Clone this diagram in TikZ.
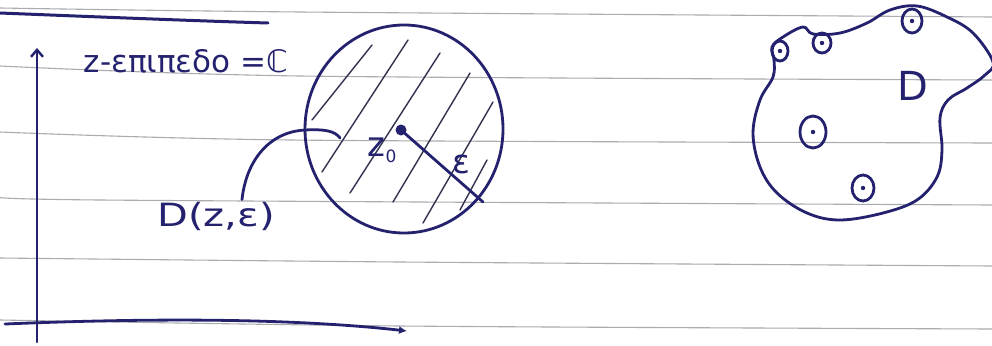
\documentclass[tikz,border=0pt]{standalone}
\usepackage{fontspec}
\setmainfont{DejaVu Sans}
\usetikzlibrary{arrows.meta}
\definecolor{ink}{RGB}{36,34,110}
\definecolor{rulecol}{RGB}{170,172,176}
\definecolor{hatchcol}{RGB}{50,50,80}
\begin{document}
\begin{tikzpicture}[x=1pt,y=-1pt,
  inkline/.style={draw=ink,line width=2.8pt,line cap=round,line join=round},
  hatchline/.style={draw=hatchcol,line width=1.4pt,line cap=round},
  ruleline/.style={draw=rulecol,line width=1.1pt},
  inktext/.style={text=ink,inner sep=0pt}]
\useasboundingbox (0,0) rectangle (992,345);
\fill[white] (0,0) rectangle (992,345);
% ruled paper lines
\draw[ruleline] plot[smooth] coordinates {(0,8) (300,12) (992,17)};
\draw[ruleline] plot[smooth] coordinates {(0,66) (300,76) (992,80)};
\draw[ruleline] plot[smooth] coordinates {(0,132) (290,140) (992,143)};
\draw[ruleline] plot[smooth] coordinates {(0,196) (100,200) (992,205)};
\draw[ruleline] plot[smooth] coordinates {(0,258) (400,262) (992,266)};
\draw[ruleline] plot[smooth] coordinates {(0,320) (400,326) (992,329)};
% header underline
\coordinate (h1) at (0,13);
\coordinate (h2) at (268,23);
\draw[inkline,line width=3pt] (h1) .. controls (100,17) and (200,21) .. (h2);
% axes
\coordinate (yb) at (37,342);
\coordinate (yt) at (37,48);
\draw[inkline,line width=2.4pt,-{Straight Barb[length=7pt,width=12pt]}] (yb) -- (yt);
\coordinate (xa) at (5,324);
\coordinate (xb) at (407,331);
\draw[inkline,-{Latex[length=8pt,width=8pt]}] (xa) .. controls (150,318) and (290,318) .. (xb);
% title
\node[inktext,font=\fontsize{31}{36}\selectfont] (title) at (186,61) {z-επιπεδο =ℂ};
% disc
\coordinate (disk) at (404,129);
\draw[inkline] (disk) ellipse [x radius=99pt,y radius=104pt];
\draw[hatchline] (312,120) -- (372,45);
\draw[hatchline] (322,172) -- (408,40);
\draw[hatchline] (350,193) -- (440,53);
\draw[hatchline] (393,202) -- (470,73);
\draw[hatchline] (423,223) -- (493,102);
\draw[hatchline] (460,210) -- (487,160);
\coordinate (c0) at (401,130);
\coordinate (rend) at (483,202);
\draw[inkline] (c0) -- (rend);
\fill[ink] (c0) circle (5.5pt);
\node[inktext,font=\fontsize{34}{36}\selectfont] (z0) at (382,150) {z\raisebox{-6pt}{\fontsize{17}{17}\selectfont 0}};
\node[inktext,font=\fontsize{33}{34}\selectfont] (eps) at (461,164) {ε};
% label D(z,eps) and its pointer
\node[inktext,font=\fontsize{32}{36}\selectfont,xscale=1.25] (Dlab) at (216,216) {D(z,ε)};
\coordinate (ptr) at (340,138);
\draw[inkline] ([xshift=26pt,yshift=2pt]Dlab.north) .. controls (246,162) and (268,132) .. (305,130) .. controls (325,129) and (335,131) .. (ptr);
% region D with holes
\draw[inkline] plot[smooth cycle,tension=0.6] coordinates {
  (772,47) (783,37) (803,27) (813,34) (840,33) (867,23) (890,10) (917,6)
  (947,17) (973,33) (993,62) (985,75) (967,88) (948,100) (940,118)
  (942,150) (937,177) (917,200) (883,213) (840,220) (807,213) (777,193)
  (760,167) (753,133) (760,100) (773,77) (774,60)};
\foreach \cx/\cy/\rx/\ry in {780/51/8/10, 822/43/9/10, 912/21/10/12, 813/132/13/16, 863/188/11/13}{
  \draw[inkline] (\cx,\cy) ellipse [x radius=\rx pt,y radius=\ry pt];
  \fill[ink] (\cx,\cy) circle (2.2pt);
}
\node[inktext,font=\fontsize{40}{40}\selectfont] (Dreg) at (913,86) {D};
\end{tikzpicture}
\end{document}
